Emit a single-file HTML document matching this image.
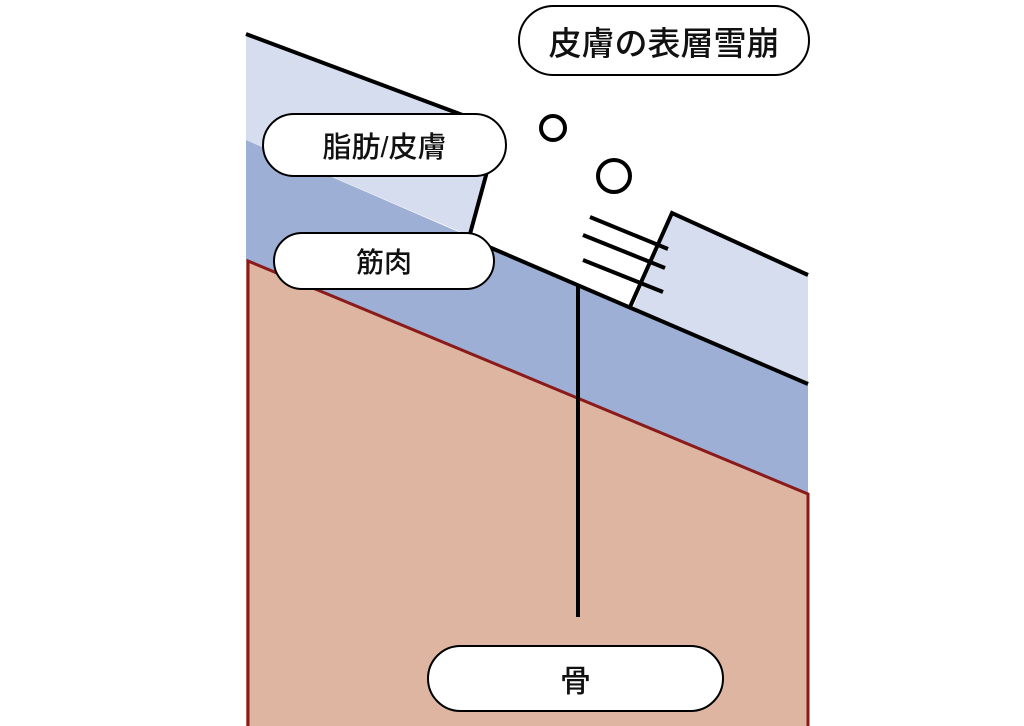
<!DOCTYPE html>
<html><head><meta charset="utf-8"><style>
body{margin:0;background:#fff;}
.pill{position:absolute;box-sizing:border-box;border:2.5px solid #000;background:#fff;border-radius:40px;display:flex;align-items:center;justify-content:center;font-family:"Liberation Sans","Noto Sans CJK JP",sans-serif;color:#111;font-weight:500;}
</style></head><body>
<div style="position:relative;width:1024px;height:726px;overflow:hidden;">
<svg width="1024" height="726" style="position:absolute;left:0;top:0">
<polygon points="246,140 808,383 808,493 246,260" fill="#9dafd4"/>
<polygon points="246,260 808,493 808,726 246,726" fill="#ddb5a0"/>
<polyline points="248,726 248,261 808,494 808,726" fill="none" stroke="#8b1a1a" stroke-width="3"/>
<polygon points="246,34 500,129 470,236 246,140" fill="#d6ddee"/>
<polygon points="672,213 808,275 808,383 633,308" fill="#d6ddee"/>
<g stroke="#000" stroke-width="4" fill="none">
<line x1="246" y1="34" x2="500" y2="129"/>
<line x1="497" y1="135" x2="470" y2="234"/>
<line x1="468" y1="238" x2="808" y2="384"/>
<polyline points="808,275 672,213 630,307"/>
<line x1="590" y1="217" x2="668" y2="249"/>
<line x1="583" y1="235" x2="665" y2="268"/>
<line x1="583" y1="260" x2="663" y2="292"/>
<line x1="578" y1="285" x2="578" y2="617"/>
<circle cx="553" cy="128" r="12"/>
<circle cx="614" cy="176" r="16"/>
</g>
</svg>
<div class="pill" style="left:518px;top:5px;width:292px;height:71px;font-size:33px;">皮膚の表層雪崩</div>
<div class="pill" style="left:262px;top:113px;width:245px;height:64px;font-size:29px;">脂肪/皮膚</div>
<div class="pill" style="left:273px;top:232px;width:222px;height:58px;font-size:28px;">筋肉</div>
<div class="pill" style="left:427px;top:645px;width:297px;height:67px;font-size:31px;">骨</div>
</div>
</body></html>
